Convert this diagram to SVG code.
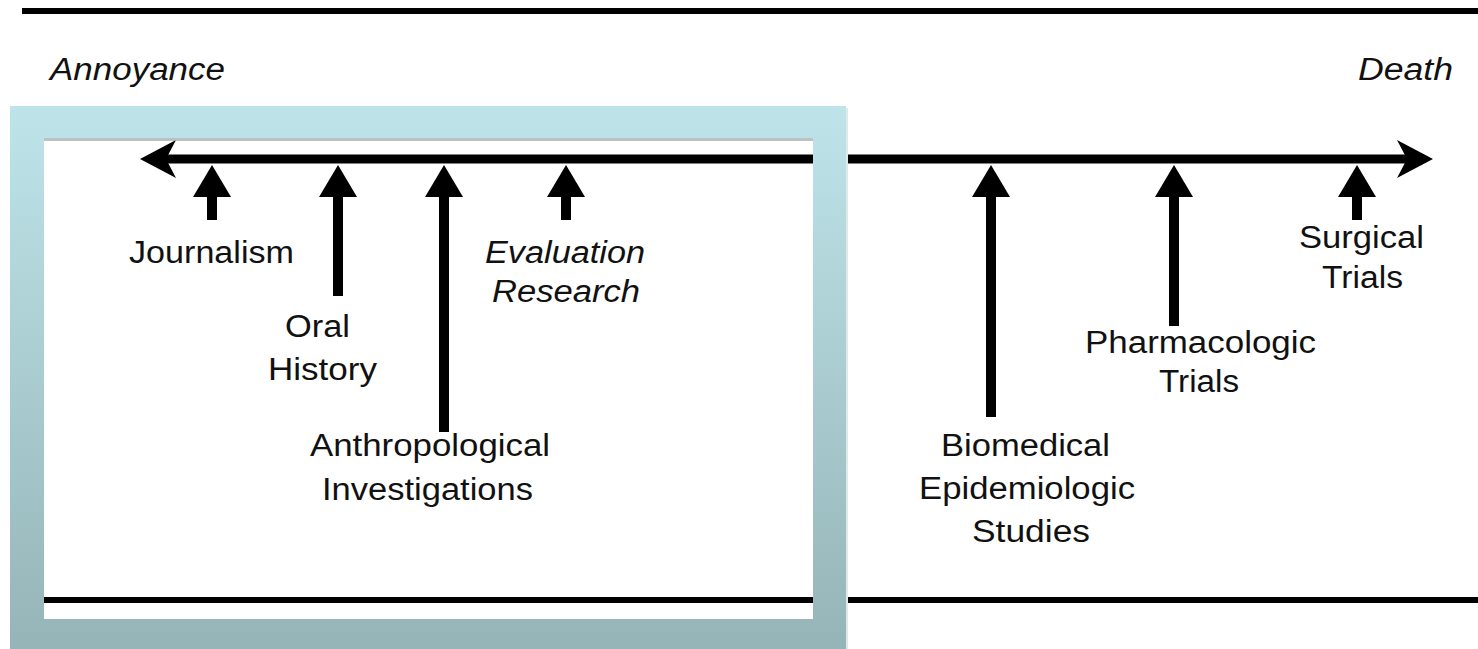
<svg xmlns="http://www.w3.org/2000/svg" width="1478" height="649" viewBox="0 0 1478 649">
<defs>
<style>
.rule{stroke:#000;stroke-width:6;fill:none}
.axis{stroke:#000;stroke-width:9;fill:none;marker-start:url(#barb);marker-end:url(#barb)}
.shaft{stroke:#000;stroke-width:10;fill:none;marker-end:url(#tri)}
.lbl{font-family:"Liberation Sans",Arial,sans-serif;font-size:31px;fill:#111;text-anchor:middle}
.it{font-style:italic}
</style>
<marker id="barb" viewBox="0 -20 37 40" refX="10" refY="0" markerWidth="37" markerHeight="40" markerUnits="userSpaceOnUse" orient="auto-start-reverse">
<path d="M0,-19 L36,0 L0,19 L10,0 Z" fill="#000"/>
</marker>
<marker id="tri" viewBox="0 0 32 38" refX="0" refY="19" markerWidth="32" markerHeight="38" markerUnits="userSpaceOnUse" orient="auto">
<path d="M0,0 L32,19 L0,38 Z" fill="#000"/>
</marker>
<linearGradient id="frameGrad" x1="0" y1="0" x2="0" y2="1">
<stop offset="0" stop-color="#bee4e9"/>
<stop offset="1" stop-color="#95b4b7"/>
</linearGradient>
</defs>
<rect x="0" y="0" width="1478" height="649" fill="#fff"/>
<g id="connectors">
<line class="rule" x1="22" y1="11" x2="1478" y2="11"/>
<line class="rule" x1="25" y1="600" x2="1478" y2="600"/>
<line id="axis" class="axis" x1="166" y1="159" x2="1407" y2="159"/>
<line class="shaft" x1="212" y1="220" x2="212" y2="197"/>
<line class="shaft" x1="338" y1="296" x2="338" y2="197"/>
<line class="shaft" x1="444" y1="432" x2="444" y2="197"/>
<line class="shaft" x1="566" y1="220" x2="566" y2="197"/>
<line class="shaft" x1="991" y1="417" x2="991" y2="197"/>
<line class="shaft" x1="1174" y1="326" x2="1174" y2="197"/>
<line class="shaft" x1="1357" y1="220" x2="1357" y2="197"/>
</g>
<g id="annoyance"><text class="lbl it" x="137.5" y="80" textLength="175" lengthAdjust="spacingAndGlyphs">Annoyance</text></g>
<g id="death"><text class="lbl it" x="1405.5" y="80" textLength="95" lengthAdjust="spacingAndGlyphs">Death</text></g>
<g id="journalism"><text class="lbl" x="211.5" y="263" textLength="165" lengthAdjust="spacingAndGlyphs">Journalism</text></g>
<g id="oral-history">
<text class="lbl" x="317.5" y="337" textLength="65" lengthAdjust="spacingAndGlyphs">Oral</text>
<text class="lbl" x="322.5" y="380" textLength="109" lengthAdjust="spacingAndGlyphs">History</text>
</g>
<g id="anthropological">
<text class="lbl" x="430" y="456" textLength="240" lengthAdjust="spacingAndGlyphs">Anthropological</text>
<text class="lbl" x="427.5" y="500" textLength="211" lengthAdjust="spacingAndGlyphs">Investigations</text>
</g>
<g id="evaluation">
<text class="lbl it" x="565" y="263" textLength="160" lengthAdjust="spacingAndGlyphs">Evaluation</text>
<text class="lbl it" x="566" y="302" textLength="148" lengthAdjust="spacingAndGlyphs">Research</text>
</g>
<g id="biomedical">
<text class="lbl" x="1025.5" y="456" textLength="169" lengthAdjust="spacingAndGlyphs">Biomedical</text>
<text class="lbl" x="1027" y="499" textLength="216" lengthAdjust="spacingAndGlyphs">Epidemiologic</text>
<text class="lbl" x="1031" y="542" textLength="118" lengthAdjust="spacingAndGlyphs">Studies</text>
</g>
<g id="pharmacologic">
<text class="lbl" x="1200.5" y="353" textLength="231" lengthAdjust="spacingAndGlyphs">Pharmacologic</text>
<text class="lbl" x="1199" y="392" textLength="80" lengthAdjust="spacingAndGlyphs">Trials</text>
</g>
<g id="surgical">
<text class="lbl" x="1361.5" y="248" textLength="125" lengthAdjust="spacingAndGlyphs">Surgical</text>
<text class="lbl" x="1362.5" y="288" textLength="81" lengthAdjust="spacingAndGlyphs">Trials</text>
</g>
<g id="frame">
<path d="M10,106 H846 V655 H10 Z M44,138 V619 H813 V138 Z" fill="url(#frameGrad)" fill-rule="evenodd"/>
<line x1="44" y1="139.5" x2="813" y2="139.5" stroke="#8f9a9c" stroke-width="3" opacity="0.6"/>
<line x1="847" y1="108" x2="847" y2="649" stroke="#dfe9ea" stroke-width="2"/>
</g>
</svg>
